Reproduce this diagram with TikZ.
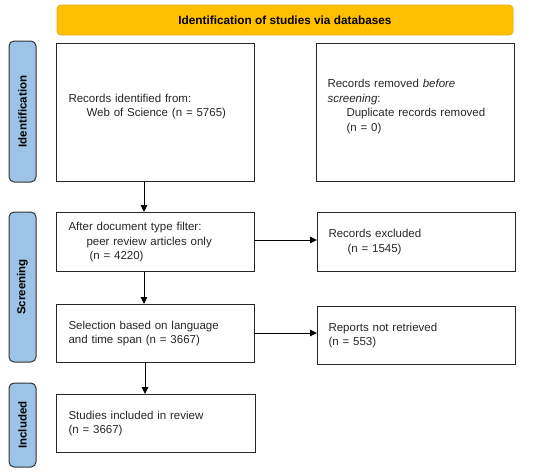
\documentclass[tikz,border=0pt]{standalone}
\usepackage{fontspec}
\setmainfont{Liberation Sans}
\usetikzlibrary{arrows.meta}
\definecolor{bannerorange}{HTML}{FFC000}
\definecolor{bannerline}{HTML}{E8AC00}
\definecolor{phaseblue}{HTML}{9DC3E6}
\tikzset{
	x=1pt, y=-1pt,
	>={Triangle[length=7pt,width=6.5pt]},
	every node/.style={font=\fontsize{11.5}{14.5}\selectfont, text=black!85},
	box/.style={draw=black!85, line width=1.1pt, align=left, inner sep=0pt, anchor=north west, text width=198pt},
	phase/.style={draw=black!80, line width=1pt, fill=phaseblue, rounded corners=5pt, rotate=90, font=\fontsize{11.5}{12}\selectfont\bfseries, text=black},
	flow/.style={->, line width=1pt, black},
}

\begin{document}
\begin{tikzpicture}
	\useasboundingbox (0,0) rectangle (550,472);
	% banner
	\node[fill=bannerorange, draw=bannerline, line width=0.8pt, rounded corners=4pt, minimum width=456pt, minimum height=30pt, font=\fontsize{11.8}{12}\selectfont\bfseries, text=black] (banner) at (285,20) {Identification of studies via databases};
	% phases
	\node[phase, minimum width=141pt, minimum height=27pt] (ident) at (22.5,111.5) {Identification};
	\node[phase, minimum width=150pt, minimum height=27pt] (screen) at (22.5,287) {Screening};
	\node[phase, minimum width=84pt, minimum height=27pt] (incl) at (22.5,425) {Included};
	% boxes
	\node[box, minimum width=198pt, minimum height=138pt] (records) at (56,43)
		{\hspace*{12pt}Records identified from:\\\hspace*{30pt}Web of Science (n = 5765)\\\mbox{}};
	\node[box, minimum width=198pt, minimum height=138pt] (removed) at (316,43)
		{\hspace*{11pt}Records removed \textit{before}\\\hspace*{11pt}\textit{screening}:\\\hspace*{30pt}Duplicate records removed\\\hspace*{30pt}(n = 0)\\\mbox{}};
	\node[box, minimum width=198pt, minimum height=59pt] (filter) at (56,212)
		{\hspace*{12pt}After document type filter:\\\hspace*{30pt}peer review articles only\\\hspace*{33pt}(n = 4220)};
	\node[box, minimum width=198pt, minimum height=59pt] (excluded) at (317,212)
		{\hspace*{11pt}Records excluded\\\hspace*{30pt}(n = 1545)};
	\node[box, minimum width=198pt, minimum height=58pt] (selection) at (56,304)
		{\hspace*{12pt}Selection based on language\\\hspace*{12pt}and time span (n = 3667)};
	\node[box, minimum width=198pt, minimum height=58pt] (retrieved) at (317,306)
		{\hspace*{11pt}Reports not retrieved\\\hspace*{11pt}(n = 553)};
	\node[box, minimum width=199pt, minimum height=58pt, text width=199pt] (included) at (56,394)
		{\hspace*{12pt}Studies included in review\\\hspace*{12pt}(n = 3667)};
	% arrows
	\draw[flow] (records.south -| 144,0) -- (filter.north -| 144,0);
	\draw[flow] (filter.south -| 144,0) -- (selection.north -| 144,0);
	\draw[flow] (selection.south -| 145,0) -- (included.north -| 145,0);
	\draw[flow] (filter.east |- 0,240) -- (excluded.west |- 0,240);
	\draw[flow] (selection.east |- 0,333) -- (retrieved.west |- 0,333);
\end{tikzpicture}
\end{document}
